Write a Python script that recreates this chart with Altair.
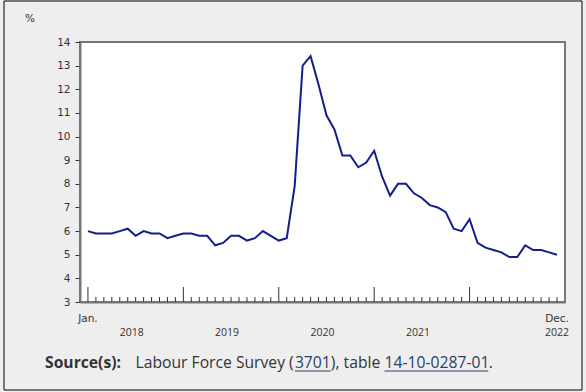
import altair as alt
import pandas as pd

# ---- data ----
years = [2018, 2019, 2020, 2021, 2022]
vals_2018 = [6.0, 5.9, 5.9, 5.9, 6.0, 6.1, 5.8, 6.0, 5.9, 5.9, 5.7, 5.8]
vals_2019 = [5.9, 5.9, 5.8, 5.8, 5.4, 5.5, 5.8, 5.8, 5.6, 5.7, 6.0, 5.8]
vals_2020 = [5.6, 5.7, 7.9, 13.0, 13.4, 12.2, 10.9, 10.3, 9.2, 9.2, 8.7, 8.9]
vals_2021 = [9.4, 8.3, 7.5, 8.0, 8.0, 7.6, 7.4, 7.1, 7.0, 6.8, 6.1, 6.0]
vals_2022 = [6.5, 5.5, 5.3, 5.2, 5.1, 4.9, 4.9, 5.4, 5.2, 5.2, 5.1, 5.0]
y_ticks = [3, 4, 5, 6, 7, 8, 9, 10, 11, 12, 13, 14]
month_labels = ["Jan.", "Dec."]
month_label_idx = [0, 59]
year_labels = ["2018", "2019", "2020", "2021", "2022"]
year_label_idx = [5.5, 17.5, 29.5, 41.5, 59]

values = vals_2018 + vals_2019 + vals_2020 + vals_2021 + vals_2022
df = pd.DataFrame({
    "idx": list(range(len(values))),
    "rate": values,
    "month": [i % 12 for i in range(len(values))],
})
ml = pd.DataFrame({"idx": month_label_idx, "label": month_labels})
yl = pd.DataFrame({"idx": year_label_idx, "label": year_labels})
one = pd.DataFrame({"k": [0]})

W, H = 485, 260
xscale = alt.Scale(domain=[-1, 60], nice=False, zero=False)
yscale = alt.Scale(domain=[3, 14], nice=False, zero=False)

base = alt.Chart(df)

line = base.mark_line(color="#121f8c", strokeWidth=2).encode(
    x=alt.X("idx:Q", scale=xscale,
            axis=alt.Axis(labels=False, ticks=False, title=None, grid=False,
                          domainColor="#777777", domainWidth=2)),
    y=alt.Y("rate:Q", scale=yscale,
            axis=alt.Axis(values=y_ticks, title=None, grid=False,
                          domainColor="#777777", domainWidth=2,
                          tickColor="#333333", tickSize=5, tickWidth=1,
                          labelFont="DejaVu Sans", labelFontSize=10.5,
                          labelColor="#333333", labelPadding=5)),
)

small_ticks = base.transform_filter("datum.month != 0").mark_rule(
    color="#333333", strokeWidth=1).encode(
    x=alt.X("idx:Q", scale=xscale), y=alt.value(H), y2=alt.value(H - 5))

big_ticks = base.transform_filter("datum.month == 0").mark_rule(
    color="#333333", strokeWidth=1).encode(
    x=alt.X("idx:Q", scale=xscale), y=alt.value(H), y2=alt.value(H - 15))

mlab = alt.Chart(ml).mark_text(font="DejaVu Sans", fontSize=10.5, color="#333333",
                               baseline="middle", align="center").encode(
    x=alt.X("idx:Q", scale=xscale), y=alt.value(277), text="label:N")

ylab = alt.Chart(yl).mark_text(font="Open Sans", fontSize=10.5, color="#333333",
                               baseline="middle", align="center").encode(
    x=alt.X("idx:Q", scale=xscale), y=alt.value(291), text="label:N")

pct = alt.Chart(one).mark_text(text="%", font="DejaVu Sans", fontSize=10.5,
                               color="#333333", baseline="middle", align="center").encode(
    x=alt.value(-50), y=alt.value(-23))

border = alt.Chart(one).mark_rect(filled=False, stroke="black", strokeWidth=1).encode(
    x=alt.value(-76), x2=alt.value(502), y=alt.value(-41), y2=alt.value(348))

src_y = 320.7
FS = 15.7
def txt(s, x, bold=False, color="#333333"):
    return alt.Chart(one).mark_text(text=s, font="Open Sans", fontSize=FS,
                                    fontWeight="bold" if bold else "normal",
                                    color=color, baseline="middle", align="left").encode(
        x=alt.value(x), y=alt.value(src_y))

link = "#284162"
x1 = 55.5
x2 = x1 + 10.153 * FS
x3 = x2 + 2.288 * FS
x4 = x3 + 3.422 * FS
x5 = x4 + 6.64 * FS
src = (txt("Source(s):", -35, bold=True)
       + txt("Labour Force Survey (", x1)
       + txt("3701", x2, color=link)
       + txt("), table ", x3)
       + txt("14-10-0287-01", x4, color=link)
       + txt(".", x5))

ul1 = alt.Chart(one).mark_rule(color=link, strokeWidth=1).encode(
    x=alt.value(x2), x2=alt.value(x3), y=alt.value(329))
ul2 = alt.Chart(one).mark_rule(color=link, strokeWidth=1).encode(
    x=alt.value(x4), x2=alt.value(x5 - 0.5), y=alt.value(329))

chart = alt.layer(border, small_ticks, big_ticks, line, mlab, ylab, pct, src, ul1, ul2).properties(
    width=W, height=H,
    autosize=alt.AutoSizeParams(type="none"),
    padding={"left": 80, "top": 42, "right": 21, "bottom": 90},
    background="#eeeeee",
).configure_view(stroke="#777777", strokeWidth=2, fill="white")

chart.save("out.html", embed_options={"renderer": "svg", "actions": False})
